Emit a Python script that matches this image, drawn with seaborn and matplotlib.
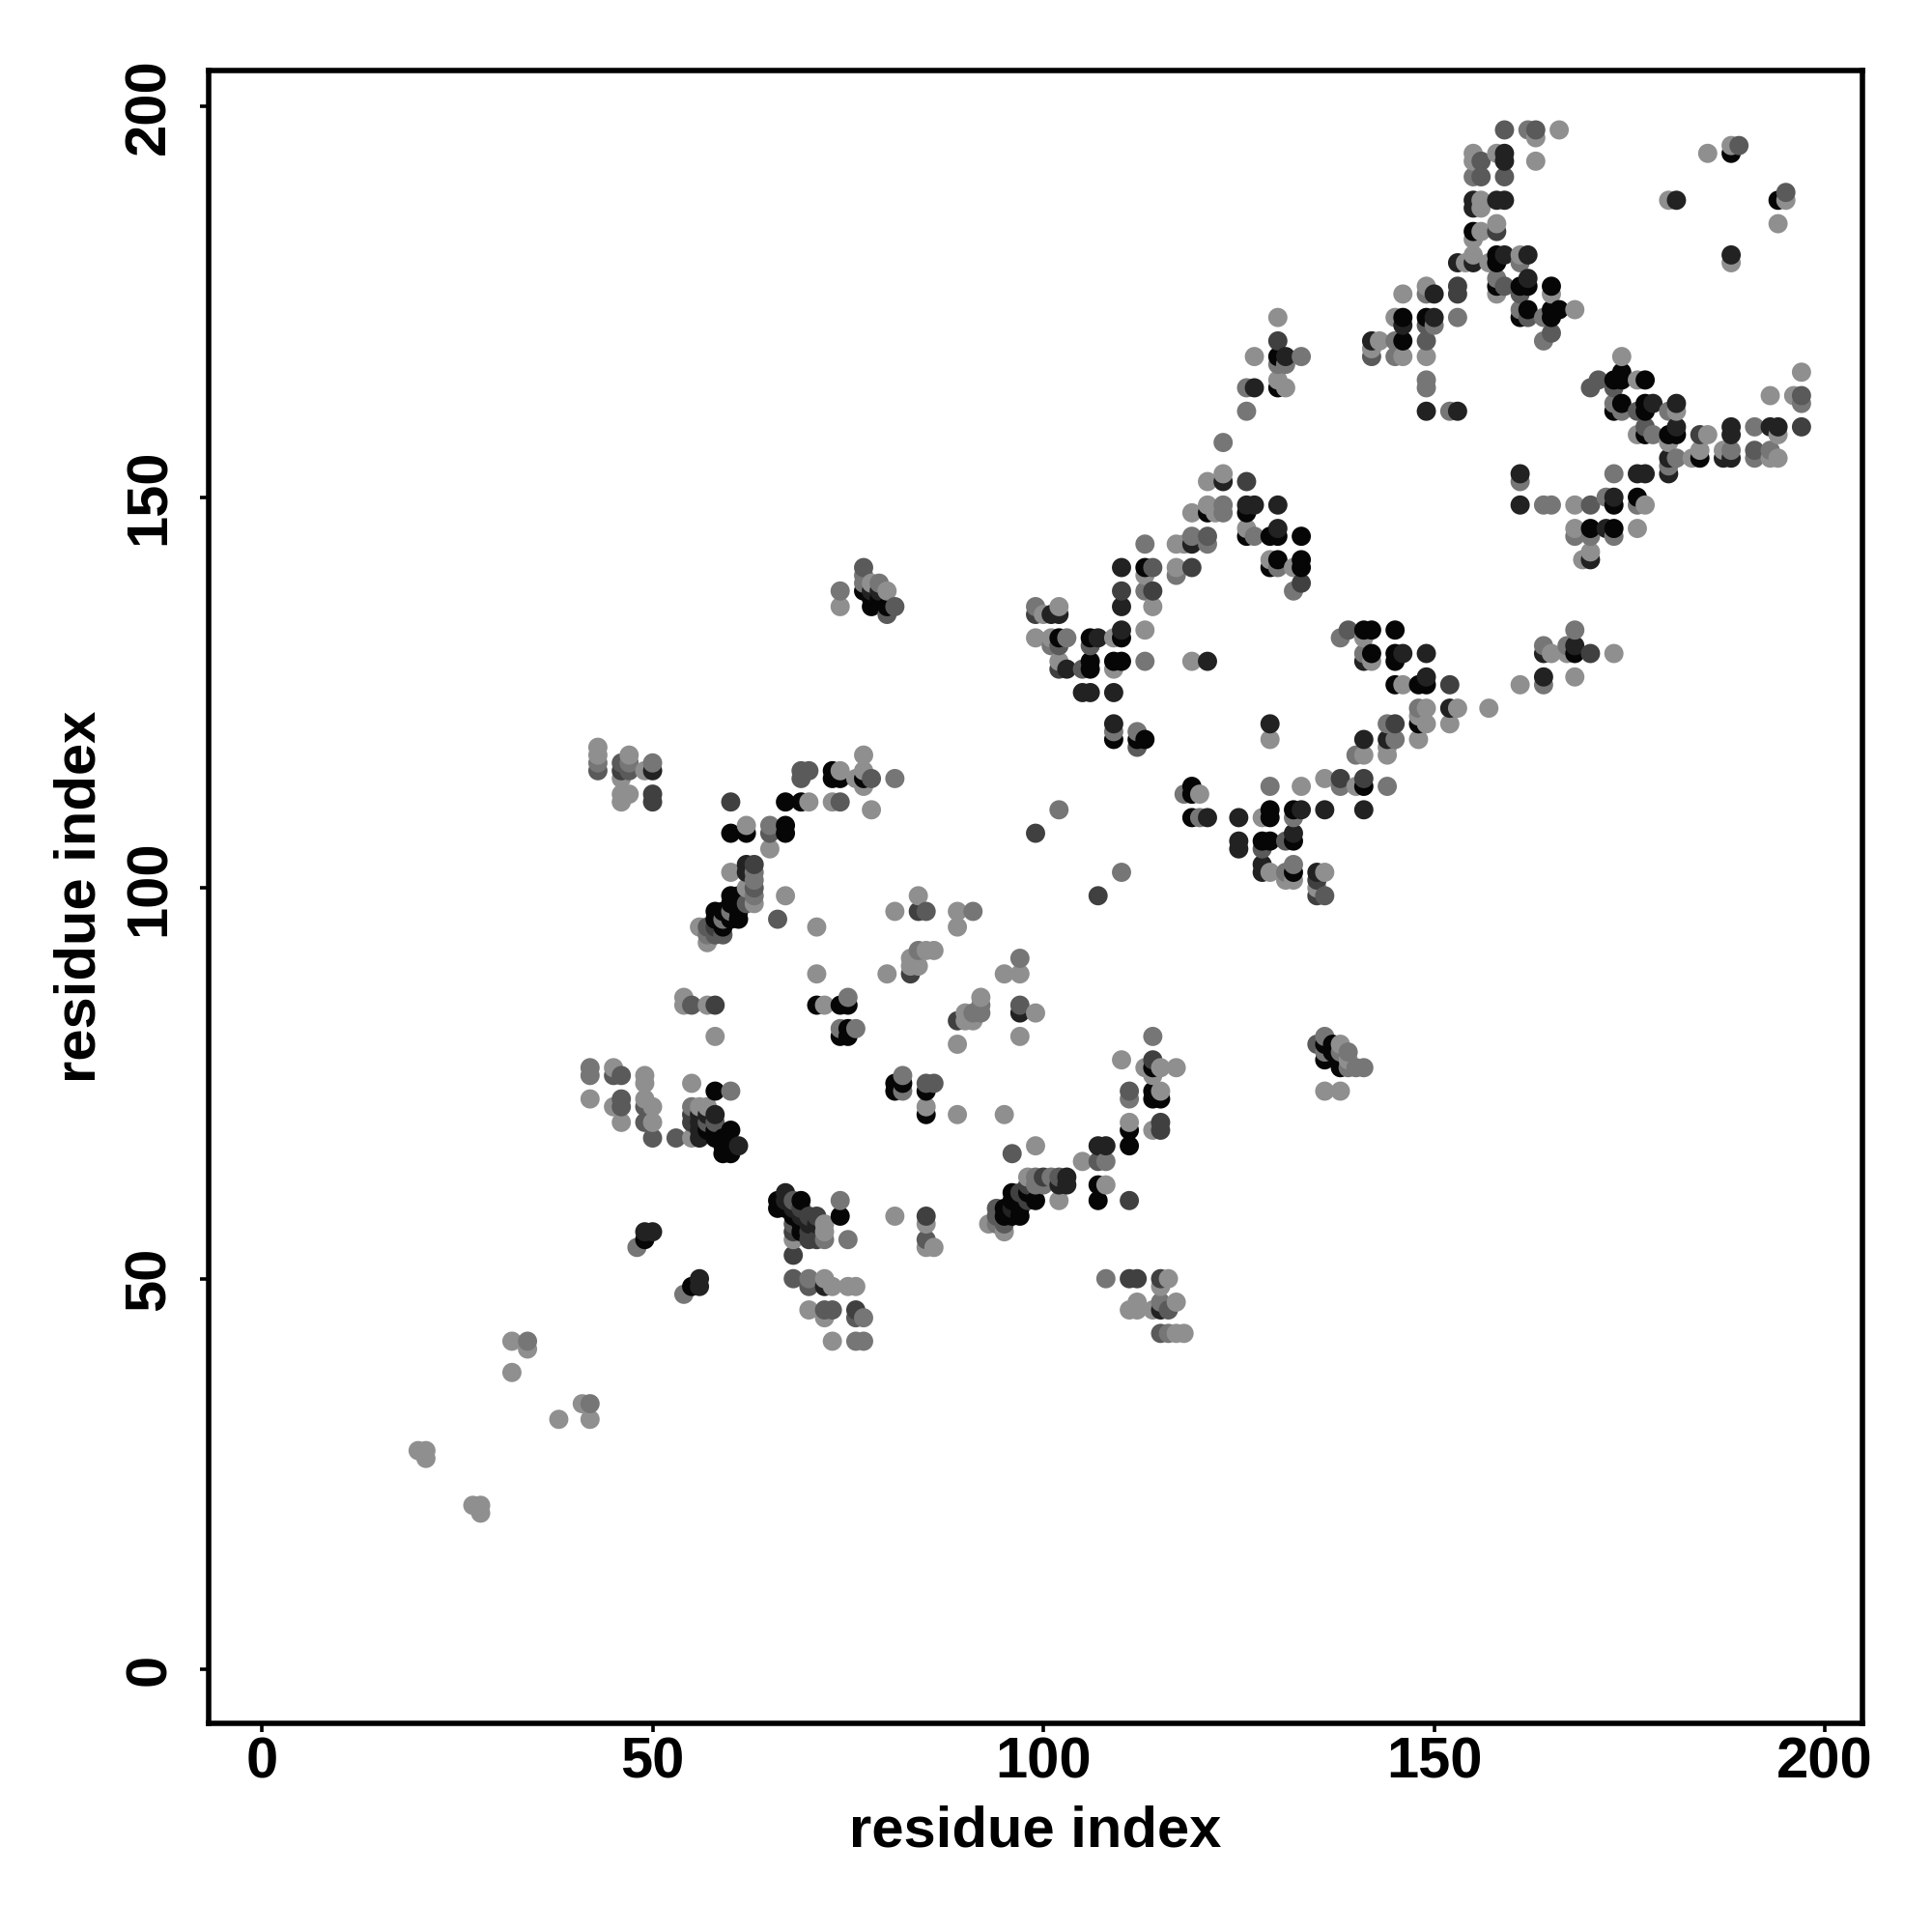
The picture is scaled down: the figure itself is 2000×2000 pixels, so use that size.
import matplotlib
matplotlib.use("Agg")
import matplotlib.pyplot as plt
import pandas as pd
import seaborn as sns

ticks = [0, 50, 100, 150, 200]
axis_label = "residue index"

light = [(20,28),(21,28),(21,27),(27,21),(28,21),(28,20),(32,42),(34,41),(32,38),(38,32),(41,34),(42,32),
(43,118),(43,117),(47,117),(46,114),(49,115),(46,111),(46,112),(47,112),(62,108),(65,105),(70,111),(73,111),(69,114),(74,115),
(77,117),(77,115),(76,114),(77,113),(78,110),(60,102),(62,100),(63,98),(56,95),(57,93),(67,99),(71,95),(84,99),(81,97),(86,92),
(85,92),(83,91),(83,90),(84,90),(80,89),(71,89),(54,86),(54,85),(57,85),(58,81),(72,85),(42,73),(45,77),(45,72),(46,70),(49,76),
(49,75),(49,73),(50,72),(50,70),(55,75),(55,68),(56,72),(57,72),(89,97),(89,95),(95,89),(97,89),(92,86),(90,84),(91,83),(90,83),
(89,80),(99,84),(97,81),(85,72),(89,71),(95,71),(99,67),(110,78),(113,77),(115,77),(117,77),(114,76),(115,74),(111,70),(114,69),
(105,65),(108,62),(102,60),(98,63),(93,57),(95,56),(72,57),(72,56),(68,55),(81,58),(85,57),(85,54),(86,54),(72,50),(73,49),(75,49),
(76,49),(70,46),(72,45),(73,42),(116,50),(115,49),(112,47),(111,46),(112,46),(114,46),(117,47),(117,43),(118,43),
(123,153),(121,152),(121,149),(119,148),(122,148),(126,146),(117,144),(118,144),(113,140),(117,141),(129,142),(132,141),(114,136),
(102,136),(100,135),(113,133),(99,132),(101,132),(109,132),(102,129),(119,129),(109,128),(129,119),(136,114),(140,113),(133,113),
(128,109),(129,102),(131,101),(132,101),(136,102),(135,100),(141,132),(142,129),(141,117),(148,122),(146,126),(153,123),(157,123),
(149,123),(149,121),(152,121),(148,119),(144,118),(144,117),(161,126),(165,130),(167,130),(173,130),(168,127),(120,112),
(163,196),(166,197),(155,194),(155,193),(158,194),(163,193),(156,188),(156,187),(156,184),(155,183),(158,185),(155,181),(154,180),
(157,180),(161,181),(158,176),(165,176),(168,174),(149,177),(146,176),(145,173),(143,170),(142,169),(146,168),(149,168),(185,194),
(188,195),(180,188),(195,188),(194,185),(188,180),(174,168),(176,165),(181,161),(176,158),(180,157),(185,158),(194,158),(193,163),
(196,163),(197,166),(183,155),(184,156),(187,156),(193,155),(194,155),(168,149),(177,149),(168,146),(176,146),(170,143),(169,142),
(74,136),(136,74),(138,74),(78,139),(80,138),(138,80),(139,78),(130,173),(127,168),(130,165),(131,164)]

mid = [(34,42),(42,34),(48,54),(54,48),(43,116),(47,116),(65,108),(50,116),(81,114),(63,102),(63,101),(63,99),(60,97),(59,96),(57,94),
(84,92),(75,86),(74,82),(76,82),(42,77),(42,76),(60,74),(82,76),(82,74),(55,72),(91,97),(97,91),(92,85),(92,84),(91,84),(114,81),
(111,73),(108,65),(99,63),(101,63),(99,62),(100,62),(94,57),(74,60),(75,55),(72,55),(70,50),(77,45),(76,42),(77,42),(108,50),
(115,47),(116,43),(113,144),(123,149),(123,148),(121,144),(119,145),(127,145),(117,140),(130,141),(132,138),(99,136),(113,138),
(103,132),(101,131),(113,129),(109,120),(112,120),(138,132),(141,130),(138,113),(144,113),(129,113),(102,110),(118,112),(120,109),
(132,109),(131,102),(132,103),(110,102),(148,123),(145,119),(144,121),(164,131),(164,126),(167,131),(168,133),(140,117),(162,197),
(155,191),(158,178),(161,180),(161,174),(164,173),(164,170),(149,176),(150,172),(153,173),(145,170),(145,168),(149,165),(149,164),
(152,161),(173,162),(174,161),(180,161),(178,158),(197,162),(191,159),(188,156),(193,156),(191,155),(181,155),(180,154),(173,153),
(161,152),(172,150),(176,149),(168,145),(170,145),(173,145),(74,138),(77,140),(77,139),(79,139),(136,81),(136,79),(138,79),(139,79),
(139,77),(140,77),(141,77),(126,164),(126,161),(123,157),(130,167),(131,167),(133,168),(164,149),(165,149)]

mid_dark = [(43,115),(46,116),(47,115),(65,107),(74,111),(69,115),(70,115),(78,114),(62,98),(63,100),(66,96),(85,97),(55,85),(45,76),(46,76),
(46,73),(46,72),(49,72),(49,70),(50,68),(53,68),(57,70),(58,70),(85,75),(86,75),(96,66),(97,85),(111,74),(107,65),(102,63),(94,59),
(94,58),(95,57),(68,60),(68,57),(68,50),(70,49),(72,46),(73,46),(76,45),(85,55),(116,46),(115,43),(105,128),(102,131),(106,131),
(114,141),(121,145),(112,118),(131,106),(128,105),(136,99),(139,133),(170,164),(173,164),(176,161),(177,159),(159,191),(163,197),
(156,193),(156,191),(159,197),(159,177),(161,176),(162,173),(165,171),(149,170),(142,168),(149,172),(170,149),(191,156),
(189,195),(195,189),(197,163),(171,165),(77,141),(80,135),(81,136),(135,80),(69,114),(58,94),(59,94),(57,95)]

dark_mid = [(46,115),(50,112),(50,111),(60,111),(83,89),(58,85),(63,103),(98,62),(100,63),(97,61),(98,60),(68,56),(68,53),(70,55),(70,56),(71,55),
(71,58),(70,58),(69,59),(55,71),(55,70),(76,46),(111,50),(112,50),(115,50),(115,70),(115,69),(114,78),(111,60),(99,135),(110,138),
(114,138),(126,152),(102,128),(119,141),(141,119),(138,114),(141,114),(135,101),(135,99),(133,139),(152,126),(145,121),(170,130),
(153,177),(153,176),(158,184),(184,158),(197,159),(107,99),(99,107),(84,97),(85,58),(58,95),(130,170),(89,83)]

dark = [(50,115),(49,56),(50,56),(56,50),(56,49),(62,103),(62,102),(58,71),(56,71),(56,70),(57,71),(56,69),(56,68),(61,67),(67,61),(67,60),(68,59),
(69,58),(70,57),(71,57),(96,59),(72,49),(103,63),(103,62),(102,62),(107,67),(108,67),(115,46),(126,149),(123,152),(127,149),(130,149),(130,146),(110,141),(119,144),
(110,136),(101,135),(102,135),(110,133),(107,132),(103,128),(105,125),(106,125),(109,125),(109,121),(121,129),(121,109),(125,109),(133,110),(136,110),(141,110),
(132,107),(125,106),(125,105),(128,103),(128,102),(135,102),(141,129),(152,123),(144,119),(141,119),(146,130),(149,130),(149,127),(164,127),(168,131),(164,130),
(159,194),(159,193),(155,188),(155,187),(158,188),(159,188),(153,180),(155,180),(159,181),(162,181),(162,178),(150,176),(150,173),(146,172),(142,170),(149,161),
(153,161),(188,181),(181,188),(178,162),(181,162),(181,159),(188,159),(188,158),(193,159),(194,159),(180,155),(187,155),(188,155),(180,153),(176,153),(177,153),
(161,153),(161,149),(173,150),(170,142),(172,146),(78,138),(79,138),(131,168),(127,164),(129,121),(97,84)]

black = [(49,55),(55,49),(60,107),(62,107),(67,108),(67,107),(67,111),(69,111),(73,115),(73,114),(74,114),(77,114),(60,99),(60,98),(61,99),(61,97),(61,96),(60,96),
(58,97),(58,96),(59,97),(59,95),(58,74),(71,85),(74,85),(75,85),(74,81),(75,82),(75,81),(81,75),(81,74),(82,75),(85,74),(85,71),(57,69),(58,69),(60,69),(58,68),(59,68),
(59,67),(60,67),(59,66),(60,66),(66,60),(69,60),(66,59),(67,59),(68,58),(74,58),(69,57),(69,56),(114,77),(114,74),(114,73),(115,73),(111,69),(111,67),(107,62),(107,60),
(96,61),(96,60),(99,60),(97,59),(95,59),(95,58),(96,58),(97,58),(98,61),(126,148),(121,148),(126,145),(129,145),(130,145),(133,145),(130,142),(133,142),(129,141),(133,141),
(113,141),(110,132),(102,132),(106,132),(106,129),(109,129),(110,129),(106,128),(109,119),(112,119),(113,119),(141,133),(142,133),(145,133),(142,130),(145,130),(145,129),
(145,126),(148,126),(149,126),(148,121),(119,113),(119,112),(119,109),(129,110),(129,109),(132,110),(128,106),(129,106),(132,106),(132,102),(141,113),(168,130),(158,181),
(158,180),(158,177),(161,177),(162,177),(162,174),(161,173),(165,177),(165,174),(166,174),(165,173),(155,184),(146,173),(146,170),(149,173),(188,194),(194,188),(174,166),
(173,165),(174,165),(177,165),(174,162),(173,161),(177,162),(177,161),(177,158),(180,158),(181,158),(184,155),(173,149),(170,146),(173,146),(176,150),(77,138),(78,137),
(78,136),(79,137),(80,136),(136,80),(136,78),(137,80),(137,79),(138,78),(138,77),(130,168),(130,164)]

shades = {"light": "#8f8f8f", "mid": "#767676", "mid_dark": "#5a5a5a",
          "dark_mid": "#404040", "dark": "#222222", "black": "#060606"}
groups = {"light": light, "mid": mid, "mid_dark": mid_dark,
          "dark_mid": dark_mid, "dark": dark, "black": black}

rows = [(x, y, k) for k, pts in groups.items() for x, y in pts]
df = pd.DataFrame(rows, columns=["x", "y", "shade"])
df = df.drop_duplicates(["x", "y"], keep="last").sort_values(["x", "y"], kind="stable")

sns.set_theme(style="white")
plt.rcParams["font.family"] = ["Liberation Sans", "DejaVu Sans"]

fig = plt.figure(figsize=(20, 20), dpi=100)
ax = fig.add_axes([216/2000, 1-1784/2000, 1712/2000, 1711/2000])
sns.scatterplot(data=df, x="x", y="y", hue="shade", palette=shades, s=205,
                linewidth=0, legend=False, ax=ax)
ax.set_xlim(-6.8, 204.8)
ax.set_ylim(-6.9, 204.6)
ax.set_xticks(ticks)
ax.set_yticks(ticks)
ax.set_xticklabels([str(t) for t in ticks], fontsize=43, fontweight="bold")
ax.set_yticklabels([str(t) for t in ticks], fontsize=43, fontweight="bold",
                   rotation=90, va="center")
ax.tick_params(axis="both", length=6.5, width=2.6, color="black", labelcolor="black", left=True, bottom=True)
ax.tick_params(axis="x", pad=3.5)
ax.tick_params(axis="y", pad=17.5)
ax.set_xlabel(axis_label, fontsize=43, fontweight="bold", color="black")
ax.set_ylabel(axis_label, fontsize=43, fontweight="bold", color="black")
ax.xaxis.set_label_coords(0.5, (1784-1868)/1711, transform=ax.transAxes)
ax.yaxis.set_label_coords((111-216)/1712, 0.5, transform=ax.transAxes)
for sp in ax.spines.values():
    sp.set_visible(True)
    sp.set_color("black")
    sp.set_linewidth(4.0)
fig.savefig("out.png", dpi=100, facecolor="white")
